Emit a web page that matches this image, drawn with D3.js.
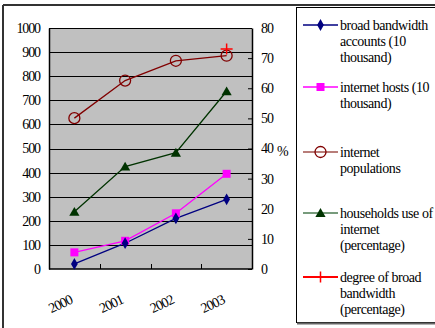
<!DOCTYPE html>
<html>
<head>
<meta charset="utf-8">
<script src="https://cdn.jsdelivr.net/npm/d3@7"></script>
<style>
  html, body { margin: 0; padding: 0; background: #fff; }
  svg { display: block; }
</style>
</head>
<body>
<svg id="chart" width="435" height="328"></svg>
<script>
// Years on the category axis
const years = ["2000", "2001", "2002", "2003"];

// Series on the left axis (10 thousand)
const broadbandAccounts = [21, 107, 210, 289];
const internetHosts = [69, 117, 231, 395];
const internetPopulation = [626, 782, 864, 885];

// Series on the right axis (percentage)
const householdsOnline = [19, 34, 38.6, 59];
const broadbandDegree = [null, null, null, 73];

const leftTicks = [0, 100, 200, 300, 400, 500, 600, 700, 800, 900, 1000];
const rightTicks = [0, 10, 20, 30, 40, 50, 60, 70, 80];

const legendItems = [
  { key: "accounts", lines: ["broad bandwidth", "accounts (10", "thousand)"] },
  { key: "hosts", lines: ["internet hosts (10", "thousand)"] },
  { key: "population", lines: ["internet", "populations"] },
  { key: "households", lines: ["households use of", "internet", "(percentage)"] },
  { key: "degree", lines: ["degree of broad", "bandwidth", "(percentage)"] }
];

const FONT = '"Liberation Serif"';

const svg = d3.select("#chart");

// Outer chart frame (top and left edges visible)
svg.append("line").attr("x1", 3).attr("x2", 435).attr("y1", 5).attr("y2", 5)
  .attr("stroke", "#333").attr("stroke-width", 2);
svg.append("line").attr("x1", 3).attr("x2", 3).attr("y1", 5).attr("y2", 328)
  .attr("stroke", "#333").attr("stroke-width", 2);

const plot = { left: 49, right: 252, top: 28, bottom: 269 };

const x = d3.scaleBand().domain(years).range([plot.left, plot.right]).padding(0);
const yL = d3.scaleLinear().domain([0, 1000]).range([plot.bottom, plot.top]);
const yR = d3.scaleLinear().domain([0, 80]).range([plot.bottom, plot.top]);
const cx = d => x(d) + x.bandwidth() / 2;

// Plot area background
svg.append("rect")
  .attr("x", plot.left).attr("y", plot.top)
  .attr("width", plot.right - plot.left).attr("height", plot.bottom - plot.top)
  .attr("fill", "#c0c0c0");

// Horizontal gridlines on the left-axis ticks
svg.append("g").selectAll("line").data(leftTicks.slice(1))
  .join("line")
  .attr("x1", plot.left).attr("x2", plot.right)
  .attr("y1", d => Math.round(yL(d)) + 0.5).attr("y2", d => Math.round(yL(d)) + 0.5)
  .attr("stroke", "#000").attr("stroke-width", 1);

// Left axis
const gl = svg.append("g").attr("transform", `translate(${plot.left},0)`)
  .call(d3.axisLeft(yL).tickValues(leftTicks).tickFormat(d3.format("d")).tickSize(0).tickPadding(9));
gl.attr("font-family", null).attr("font-size", null);
gl.select(".domain").attr("stroke", "#000").attr("stroke-width", 1.5);
gl.selectAll("text").style("font-family", FONT).style("font-size", "14px")
  .style("letter-spacing", "-1.1px").attr("fill", "#000");

// Right axis with inward ticks
const gr = svg.append("g").attr("transform", `translate(${plot.right},0)`)
  .call(d3.axisRight(yR).tickValues(rightTicks).tickFormat(d3.format("d")).tickSizeInner(-4).tickSizeOuter(0).tickPadding(9));
gr.attr("font-family", null).attr("font-size", null);
gr.select(".domain").attr("stroke", "#000").attr("stroke-width", 1.5);
gr.selectAll(".tick line").attr("stroke", "#000");
gr.selectAll("text").style("font-family", FONT).style("font-size", "14px")
  .style("letter-spacing", "-1.1px").attr("fill", "#000");

svg.append("text")
  .style("font-family", FONT).style("font-size", "14px").style("letter-spacing", "-1px")
  .attr("x", 277).attr("y", 156)
  .text("%");

// Bottom axis: boundary ticks pointing up, rotated year labels
svg.append("line").attr("x1", plot.left).attr("x2", plot.right)
  .attr("y1", plot.bottom).attr("y2", plot.bottom)
  .attr("stroke", "#000").attr("stroke-width", 1.5);
svg.append("g").selectAll("line").data(years.slice(1))
  .join("line")
  .attr("x1", d => Math.round(x(d)) + 0.5).attr("x2", d => Math.round(x(d)) + 0.5)
  .attr("y1", plot.bottom).attr("y2", plot.bottom - 5)
  .attr("stroke", "#000");

svg.append("g").selectAll("text").data(years)
  .join("text")
  .style("font-family", FONT).style("font-size", "14px").style("letter-spacing", "-0.9px")
  .attr("text-anchor", "end")
  .attr("transform", d => `translate(${cx(d) - 1},${303}) rotate(-25)`)
  .text(d => d);

// Series lines and markers
const lineL = d3.line().defined(d => d.v != null).x(d => cx(d.year)).y(d => yL(d.v));
const lineR = d3.line().defined(d => d.v != null).x(d => cx(d.year)).y(d => yR(d.v));
const pts = arr => years.map((year, i) => ({ year, v: arr[i] }));

function drawLine(data, gen, color) {
  svg.append("path").datum(data).attr("d", gen)
    .attr("fill", "none").attr("stroke", color).attr("stroke-width", 1.3);
}

const colors = {
  accounts: "#000080",
  hosts: "#ff00ff",
  population: "#800000",
  households: "#003300",
  degree: "#ff0000"
};

drawLine(pts(internetPopulation), lineL, colors.population);
drawLine(pts(householdsOnline), lineR, colors.households);
drawLine(pts(internetHosts), lineL, colors.hosts);
drawLine(pts(broadbandAccounts), lineL, colors.accounts);

function marker(g, key, px, py) {
  if (key === "accounts") {
    g.append("path").attr("d", d3.symbol(d3.symbolDiamond, 40)())
      .attr("transform", `translate(${px},${py})`).attr("fill", colors.accounts);
  } else if (key === "hosts") {
    g.append("rect").attr("x", px - 4).attr("y", py - 4).attr("width", 8).attr("height", 8)
      .attr("fill", colors.hosts);
  } else if (key === "population") {
    g.append("circle").attr("cx", px).attr("cy", py).attr("r", 5.5)
      .attr("fill", "none").attr("stroke", colors.population).attr("stroke-width", 1.3);
  } else if (key === "households") {
    g.append("path").attr("d", d3.symbol(d3.symbolTriangle, 45)())
      .attr("transform", `translate(${px},${py + 1})`).attr("fill", colors.households);
  } else if (key === "degree") {
    g.append("path").attr("d", `M${px - 6},${py}H${px + 6}M${px},${py - 5.5}V${py + 5.5}`)
      .attr("stroke", colors.degree).attr("stroke-width", 1.5).attr("fill", "none");
  }
}

const gm = svg.append("g");
pts(internetPopulation).forEach(d => marker(gm, "population", cx(d.year), yL(d.v)));
pts(householdsOnline).forEach(d => marker(gm, "households", cx(d.year), yR(d.v)));
pts(internetHosts).forEach(d => marker(gm, "hosts", cx(d.year), yL(d.v)));
pts(broadbandAccounts).forEach(d => marker(gm, "accounts", cx(d.year), yL(d.v)));
pts(broadbandDegree).filter(d => d.v != null)
  .forEach(d => marker(gm, "degree", cx(d.year), yR(d.v)));

// Legend box
svg.append("rect").attr("x", 296.5).attr("y", 7.5).attr("width", 150).attr("height", 315)
  .attr("fill", "#fff").attr("stroke", "#000").attr("stroke-width", 1);
svg.append("line").attr("x1", 297).attr("x2", 435).attr("y1", 323.5).attr("y2", 323.5)
  .attr("stroke", "#666").attr("stroke-width", 2);

const legendLineColors = {
  accounts: "#000080",
  hosts: "#ff00ff",
  population: "#a0524d",
  households: "#4a7a50",
  degree: "#ff0000"
};
const legendTops = [25, 87, 152, 213, 277];
const lineGap = 16;

const gLeg = svg.append("g");
legendItems.forEach((item, i) => {
  const yc = legendTops[i];
  gLeg.append("line").attr("x1", 303).attr("x2", 338).attr("y1", yc).attr("y2", yc)
    .attr("stroke", legendLineColors[item.key]).attr("stroke-width", item.key === "degree" ? 2 : 1.5);
  marker(gLeg, item.key, 320.5, yc);
  item.lines.forEach((t, j) => {
    gLeg.append("text")
      .style("font-family", FONT).style("font-size", "14px").style("letter-spacing", "-0.45px")
      .attr("x", 340).attr("y", yc + 4.5 + j * lineGap)
      .attr("fill", "#000")
      .text(t);
  });
});
</script>
</body>
</html>
